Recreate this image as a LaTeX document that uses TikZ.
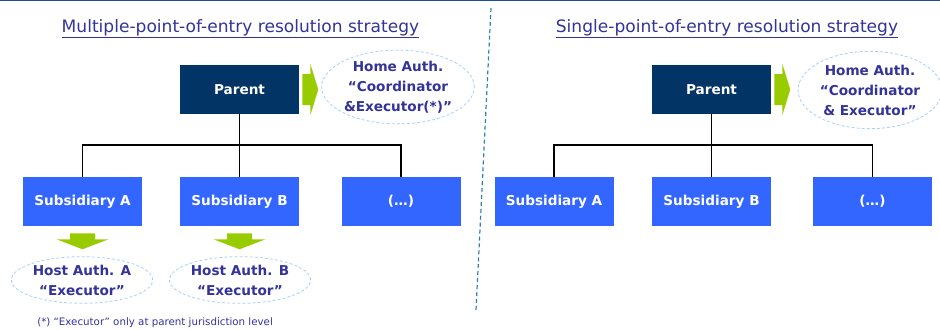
\documentclass[tikz,border=0pt]{standalone}
\usepackage{fontspec}
\setmainfont{DejaVu Sans}
\definecolor{navybox}{HTML}{023466}
\definecolor{subblue}{HTML}{3366FF}
\definecolor{arrowgreen}{HTML}{99CC00}
\definecolor{authtext}{HTML}{333399}
\definecolor{authdash}{HTML}{A8D0F2}
\definecolor{divider}{HTML}{2A82B4}
\definecolor{topline}{HTML}{1F4E99}
\tikzset{
  parentbox/.style={fill=navybox,text=white,minimum width=89.25pt,minimum height=36.75pt,inner sep=0pt,font=\bfseries\fontsize{10.2}{12}\selectfont},
  subbox/.style={parentbox,fill=subblue},
  authoval/.style={ellipse,draw=authdash,dash pattern=on 2.2pt off 1.6pt,line width=0.6pt,inner sep=0pt,align=center,text=authtext,font=\bfseries\fontsize{10.2}{15}\selectfont},
  titletext/.style={text=authtext,anchor=base,inner sep=0pt,font=\fontsize{12.8}{15}\selectfont},
  treeline/.style={line width=0.8pt,black}
}
% green block arrows, drawn from a node anchor
\newcommand\greenright[1]{\fill[arrowgreen] (#1) ++(3,-15.5) -- ++(8,0) -- ++(0,-10.5) -- ++(8,26) -- ++(-8,26) -- ++(0,-10.5) -- ++(-8,0) -- cycle;}
\newcommand\greendown[1]{\fill[arrowgreen] (#1) ++(-12.5,7) -- ++(25,0) -- ++(0,6) -- ++(13.5,0) -- ++(-26,10) -- ++(-26,-10) -- ++(13.5,0) -- cycle;}
\usetikzlibrary{shapes.geometric}
\begin{document}
\begin{tikzpicture}[x=0.75pt,y=-0.75pt]
  \useasboundingbox (0,0) rectangle (940,329);
  \draw[topline,line width=1.2pt] (0,0.6) -- (940,0.6);
  \draw[divider,line width=0.9pt,dash pattern=on 3pt off 2.2pt] (491,8) -- (476,310);
  % left: multiple point of entry
  \node[titletext] (tL) at (240.5,32) {\underline{Multiple-point-of-entry resolution strategy}};
  \node[parentbox] (pL) at (239.5,89.5) {Parent};
  \node[authoval,minimum width=108pt,minimum height=53pt] (hL) at (398,87) {Home Auth.\\“Coordinator\\\&Executor(*)”};
  \greenright{pL.east}
  \node[subbox] (sLA) at (82.5,201.5) {Subsidiary A};
  \node[subbox] (sLB) at (239.5,201.5) {Subsidiary B};
  \node[subbox] (sLC) at (401,201.5) {(…)};
  \coordinate (jL) at (239.5,145);
  \draw[treeline] (pL.south) -- (jL);
  \draw[treeline] (sLA.north) |- (jL);
  \draw[treeline] (sLB.north) -- (jL);
  \draw[treeline] (sLC.north) |- (jL);
  \greendown{sLA.south}
  \greendown{sLB.south}
  \node[authoval,minimum width=106pt,minimum height=35pt] (aA) at (82,280) {Host Auth. A\\“Executor”};
  \node[authoval,minimum width=106pt,minimum height=35pt] (aB) at (240,280) {Host Auth. B\\“Executor”};
  \node[anchor=base west,inner sep=0pt,text=authtext,font=\fontsize{7.7}{9}\selectfont] (note) at (37,325.5) {(*) “Executor” only at parent jurisdiction level};
  % right: single point of entry
  \node[titletext] (tR) at (727,32) {\underline{Single-point-of-entry resolution strategy}};
  \node[parentbox] (pR) at (711.5,89.5) {Parent};
  \node[authoval,minimum width=108pt,minimum height=58pt] (hR) at (870,90) {Home Auth.\\“Coordinator\\\& Executor”};
  \greenright{pR.east}
  \node[subbox] (sRA) at (554,201.5) {Subsidiary A};
  \node[subbox] (sRB) at (711.5,201.5) {Subsidiary B};
  \node[subbox] (sRC) at (872.5,201.5) {(…)};
  \coordinate (jR) at (711.5,145);
  \draw[treeline] (pR.south) -- (jR);
  \draw[treeline] (sRA.north) |- (jR);
  \draw[treeline] (sRB.north) -- (jR);
  \draw[treeline] (sRC.north) |- (jR);
\end{tikzpicture}
\end{document}
